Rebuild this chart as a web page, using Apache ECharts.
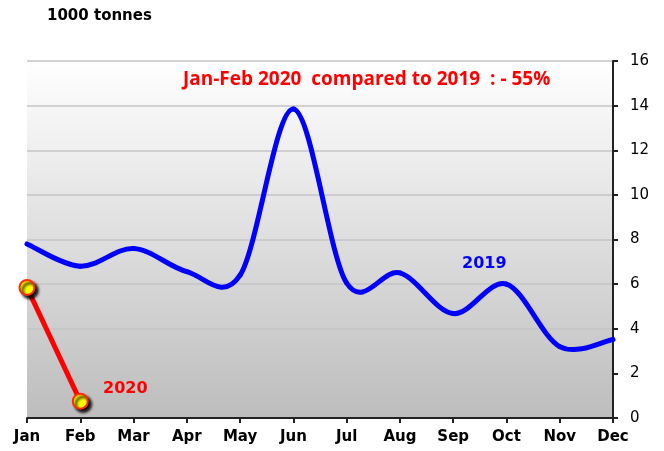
<!DOCTYPE html>
<html>
<head>
<meta charset="utf-8">
<script src="https://cdn.jsdelivr.net/npm/echarts@6/dist/echarts.min.js"></script>
<style>
  html, body { margin: 0; padding: 0; background: #fff; }
  #chart { width: 664px; height: 451px; }
</style>
</head>
<body>
<div id="chart"></div>
<script>
// Monthly volumes, 1000 tonnes
const months = ['Jan', 'Feb', 'Mar', 'Apr', 'May', 'Jun', 'Jul', 'Aug', 'Sep', 'Oct', 'Nov', 'Dec'];
const values2019 = [7.8, 6.8, 7.6, 6.56, 6.4, 13.85, 6.05, 6.5, 4.68, 6.0, 3.2, 3.52];
const values2020 = [5.85, 0.75];
const yTicks = [0, 2, 4, 6, 8, 10, 12, 14, 16];

// One item per segment of the 2019 curve, carrying its neighbours so the
// renderer can build Catmull-Rom style bezier control points.
const segments2019 = [];
for (let i = 0; i < values2019.length - 1; i++) {
  const a = Math.max(i - 1, 0), d = Math.min(i + 2, values2019.length - 1);
  segments2019.push([i, values2019[i], i + 1, values2019[i + 1], a, values2019[a], d, values2019[d]]);
}

function renderSmoothSegment(params, api) {
  const p1 = api.coord([api.value(0), api.value(1)]);
  const p2 = api.coord([api.value(2), api.value(3)]);
  const p0 = api.coord([api.value(4), api.value(5)]);
  const p3 = api.coord([api.value(6), api.value(7)]);
  const k = 1 / 6;
  return {
    type: 'bezierCurve',
    shape: {
      x1: p1[0], y1: p1[1], x2: p2[0], y2: p2[1],
      cpx1: p1[0] + (p2[0] - p0[0]) * k, cpy1: p1[1] + (p2[1] - p0[1]) * k,
      cpx2: p2[0] - (p3[0] - p1[0]) * k, cpy2: p2[1] - (p3[1] - p1[1]) * k
    },
    style: { stroke: '#0000ff', lineWidth: 5, fill: null, lineCap: 'round' }
  };
}

const chart = echarts.init(document.getElementById('chart'));
chart.setOption({
  animation: false,
  grid: {
    left: 27, right: 51, top: 61, bottom: 33,
    show: true,
    borderWidth: 0,
    backgroundColor: new echarts.graphic.LinearGradient(0, 0, 0, 1, [
      { offset: 0, color: '#ffffff' },
      { offset: 1, color: '#bdbdbd' }
    ])
  },
  xAxis: {
    type: 'category',
    data: months,
    boundaryGap: false,
    axisLine: { lineStyle: { color: '#222', width: 2 } },
    axisTick: { show: true, alignWithLabel: true, length: 5, lineStyle: { color: '#222', width: 2 } },
    axisLabel: { color: '#000', fontWeight: 'bold', fontSize: 15, fontFamily: 'DejaVu Sans', margin: 12 },
    splitLine: { show: false }
  },
  yAxis: {
    type: 'value',
    position: 'right',
    min: yTicks[0],
    max: yTicks[yTicks.length - 1],
    interval: 2,
    axisLine: { show: true, lineStyle: { color: '#222', width: 2 } },
    axisTick: { show: true, length: 5, lineStyle: { color: '#222', width: 2 } },
    axisLabel: { color: '#000', fontSize: 15, fontFamily: 'DejaVu Sans', margin: 17 },
    splitLine: { show: true, lineStyle: { color: '#c4c4c4', width: 1.5 } }
  },
  series: [
    {
      name: '2019',
      type: 'custom',
      data: segments2019,
      encode: { x: [0, 2], y: [1, 3] },
      renderItem: renderSmoothSegment,
      z: 2
    },
    {
      name: '2020',
      type: 'line',
      data: values2020,
      symbol: 'circle',
      symbolSize: 15,
      lineStyle: { color: '#ff0000', width: 5 },
      itemStyle: {
        color: '#ffff00',
        borderColor: '#ff2a00',
        borderWidth: 2,
        shadowColor: 'rgba(0,0,0,0.95)',
        shadowBlur: 3,
        shadowOffsetX: 3,
        shadowOffsetY: 3
      },
      z: 3
    }
  ],
  graphic: [
    {
      type: 'text', left: 47, top: 9,
      style: { text: '1000 tonnes', fill: '#000', font: 'bold 15px "DejaVu Sans"' }
    },
    {
      type: 'text', left: 183, top: 70,
      style: { text: 'Jan-Feb 2020  compared to 2019  : - 55%', fill: '#ff0000', font: 'bold 19px "Open Sans"' }
    },
    {
      type: 'text', left: 462, top: 256,
      style: { text: '2019', fill: '#0000ff', font: 'bold 16px "DejaVu Sans"' }
    },
    {
      type: 'text', left: 103, top: 381,
      style: { text: '2020', fill: '#ff0000', font: 'bold 16px "DejaVu Sans"' }
    }
  ]
});
</script>
</body>
</html>
